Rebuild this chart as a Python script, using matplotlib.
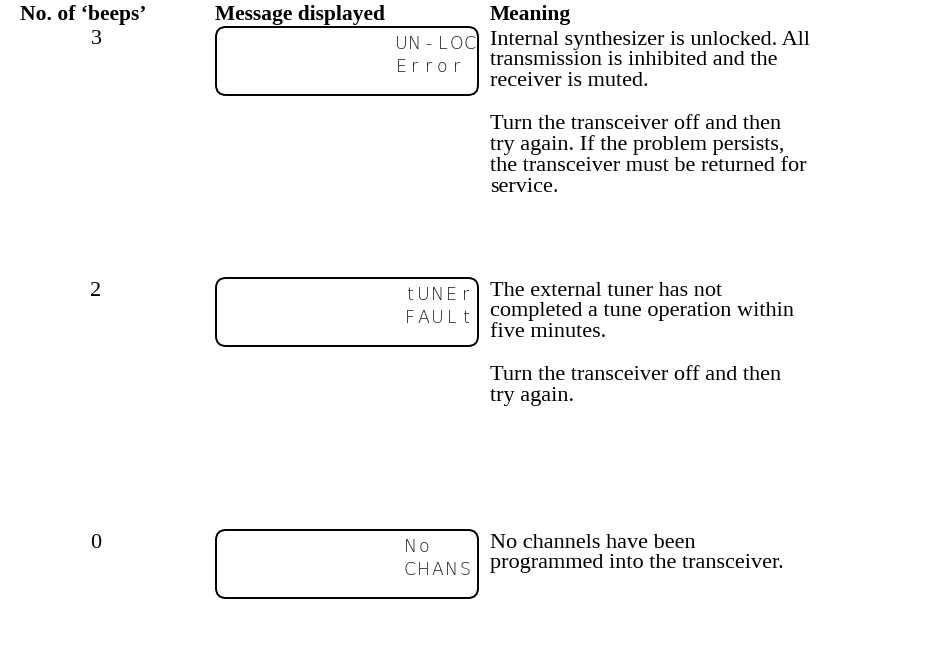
import matplotlib.pyplot as plt
from matplotlib.patches import FancyBboxPatch

# table content
headers = ["No. of \u2018beeps\u2019", "Message displayed", "Meaning"]
beeps = ["3", "2", "0"]
lcd_line1 = ["UN-LOC", "tUNEr", "No"]
lcd_line2 = ["Error", "FAULt", "CHANS"]
meaning = [
    [["Internal synthesizer is unlocked. All",
      "transmission is inhibited and the",
      "receiver is muted."],
     ["Turn the transceiver off and then",
      "try again. If the problem persists,",
      "the transceiver must be returned for",
      "service."]],
    [["The external tuner has not",
      "completed a tune operation within",
      "five minutes."],
     ["Turn the transceiver off and then",
      "try again."]],
    [["No channels have been",
      "programmed into the transceiver."]],
]

# layout (pixels, y down)
W, H = 931, 656
row_top = [40, 291, 543]
line_h = 20.8
para_gap = 43
lcd_x = [401, 410, 410]
pitch = 13.8

fig = plt.figure(figsize=(W / 100, H / 100), dpi=100)
ax = fig.add_axes([0, 0, 1, 1])
ax.set_xlim(0, W)
ax.set_ylim(H, 0)
ax.axis('off')

serif = 'Liberation Serif'
fs = 16
hfs = 15.5

ax.text(20, 15, headers[0], fontsize=hfs, fontweight='bold', family=serif, va='center')
ax.text(215, 15, headers[1], fontsize=hfs, fontweight='bold', family=serif, va='center')
ax.text(490, 15, headers[2], fontsize=hfs, fontweight='bold', family=serif, va='center')


def lcd(x, y, s):
    for j, ch in enumerate(s):
        ax.text(x + j * pitch, y, ch, fontsize=12.5, family='DejaVu Sans',
                fontweight='ultralight', va='center', ha='center', color='#1a1a1a')


for i in range(3):
    y0 = row_top[i]
    ax.text(96, y0, beeps[i], fontsize=fs, family=serif, va='center', ha='center')

    box = FancyBboxPatch((216, y0 - 13), 262, 68,
                         boxstyle='round,pad=0,rounding_size=10',
                         fc='none', ec='black', lw=1.4)
    ax.add_patch(box)
    lcd(lcd_x[i], y0 + 4, lcd_line1[i])
    lcd(lcd_x[i], y0 + 27, lcd_line2[i])

    y = y0
    for p, para in enumerate(meaning[i]):
        if p > 0:
            y += para_gap
        for k, line in enumerate(para):
            if k > 0:
                y += line_h
            ax.text(490, y, line, fontsize=fs, family=serif, va='center')

fig.savefig('out.png', dpi=100)
